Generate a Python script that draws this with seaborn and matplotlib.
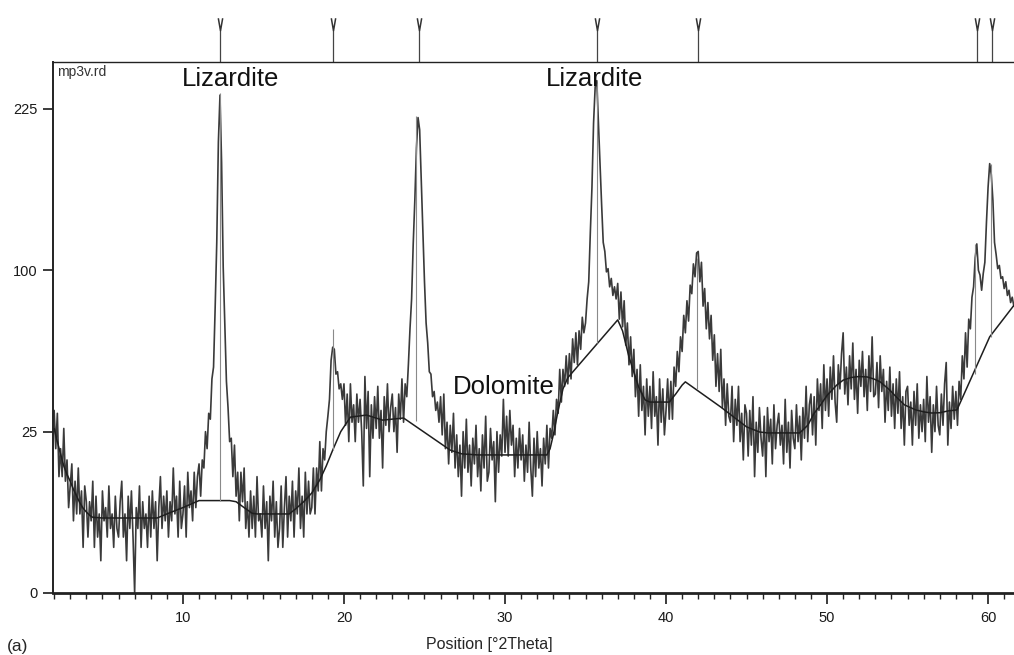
import numpy as np
import matplotlib
matplotlib.use("Agg")
import matplotlib.pyplot as plt
import seaborn as sns
from matplotlib.ticker import MultipleLocator, FixedLocator

# scan grid: 2.0 to 61.6 deg 2theta, 0.1 deg steps
scan_start = 2.0
scan_step = 0.1

# counts, one row per degree
counts_02_11 = [
    32, 20, 31, 13, 20, 13, 26, 12, 17, 7,
    11, 16, 5, 12, 6, 15, 6, 10, 2, 11,
    8, 3, 8, 5, 12, 2, 9, 3, 6, 1,
    10, 5, 7, 3, 11, 4, 6, 2, 9, 4,
    3, 8, 12, 3, 6, 1, 9, 4, 10, 3,
    0, 7, 4, 11, 2, 8, 4, 6, 2, 9,
    3, 10, 4, 8, 1, 7, 13, 4, 9, 5,
    10, 3, 8, 5, 15, 6, 9, 3, 12, 4,
    6, 11, 3, 14, 7, 10, 5, 14, 7, 13,
    16, 9, 17, 15, 25, 20, 31, 29, 44, 49,
]
counts_12_21 = [
    78, 118, 195, 238, 178, 102, 70, 43, 33, 22,
    23, 13, 21, 9, 14, 5, 14, 8, 15, 4,
    8, 3, 10, 4, 9, 3, 13, 5, 6, 3,
    11, 4, 8, 1, 9, 5, 12, 3, 8, 2,
    4, 11, 2, 7, 13, 3, 9, 5, 12, 3,
    10, 6, 15, 4, 9, 3, 14, 6, 12, 6,
    7, 15, 6, 15, 10, 22, 10, 20, 17, 25,
    30, 36, 52, 58, 57, 46, 47, 40, 42, 36,
    42, 27, 38, 22, 42, 28, 34, 22, 38, 28,
    36, 25, 11, 45, 26, 39, 13, 34, 23, 37,
]
counts_22_31 = [
    26, 41, 23, 32, 15, 37, 27, 42, 25, 33,
    38, 25, 33, 19, 38, 29, 44, 28, 42, 37,
    50, 67, 83, 117, 148, 190, 217, 206, 163, 127,
    93, 70, 60, 47, 46, 37, 39, 32, 35, 28,
    37, 24, 38, 20, 28, 16, 27, 19, 31, 15,
    24, 13, 21, 9, 25, 15, 29, 14, 21, 11,
    23, 16, 27, 13, 20, 10, 24, 15, 30, 12,
    14, 26, 17, 22, 8, 25, 14, 24, 18, 36,
    19, 30, 18, 32, 21, 27, 13, 23, 15, 26,
    17, 24, 12, 21, 14, 28, 15, 9, 23, 13,
]
counts_32_41 = [
    25, 15, 20, 11, 23, 16, 27, 15, 26, 23,
    32, 24, 36, 31, 48, 35, 48, 41, 54, 42,
    55, 44, 62, 51, 65, 50, 66, 57, 73, 65,
    70, 83, 93, 125, 158, 212, 246, 252, 213, 175,
    145, 118, 112, 99, 101, 90, 95, 85, 90, 83,
    92, 72, 87, 68, 82, 59, 70, 50, 63, 45,
    57, 37, 48, 30, 50, 32, 41, 24, 44, 30,
    41, 26, 47, 30, 37, 21, 44, 28, 40, 24,
    32, 44, 29, 43, 29, 49, 41, 56, 47, 63,
    56, 74, 65, 82, 71, 91, 86, 104, 96, 111,
]
counts_42_51 = [
    112, 93, 105, 79, 89, 67, 81, 62, 74, 52,
    64, 41, 55, 39, 57, 33, 44, 27, 42, 30,
    28, 41, 22, 36, 27, 41, 22, 31, 17, 34,
    31, 18, 32, 21, 37, 13, 28, 19, 33, 23,
    18, 30, 13, 33, 22, 29, 16, 34, 20, 27,
    31, 21, 27, 16, 36, 19, 28, 15, 32, 23,
    20, 34, 22, 30, 17, 33, 23, 41, 22, 34,
    38, 24, 37, 21, 44, 32, 42, 26, 50, 32,
    44, 30, 49, 36, 54, 35, 28, 50, 40, 55,
    65, 38, 49, 34, 54, 40, 60, 36, 48, 31,
]
counts_52_61 = [
    52, 41, 56, 37, 48, 32, 54, 39, 63, 37,
    38, 51, 33, 54, 39, 48, 28, 43, 32, 49,
    30, 42, 26, 44, 31, 47, 26, 37, 21, 39,
    41, 27, 35, 21, 39, 27, 42, 23, 34, 25,
    36, 22, 45, 28, 37, 19, 34, 25, 41, 27,
    24, 38, 27, 42, 51, 21, 35, 26, 41, 29,
    39, 27, 43, 36, 54, 44, 65, 49, 72, 67,
    84, 90, 108, 117, 100, 97, 88, 98, 105, 132,
    158, 177, 168, 148, 118, 110, 101, 103, 95, 96,
    89, 93, 85, 88, 81, 84, 79,
]

# fitted background curve
bg_pos = [2.0, 2.2, 2.4, 2.6, 2.8, 3.0, 3.2, 3.4, 3.6, 3.8, 4.0, 4.2, 4.4, 5.0,
          8.4, 9.0, 9.5, 10.0, 10.5, 11.0, 12.9, 13.3, 13.8, 14.3, 14.6, 16.6,
          17.0, 17.5, 18.0, 18.5, 18.9, 19.3, 19.8, 20.4, 21.4, 22.4, 23.7,
          26.6, 27.3, 28.3, 32.6, 32.8, 33.0, 33.3, 33.6, 33.9, 37.0, 37.3,
          37.7, 38.3, 38.7, 39.0, 40.2, 40.6, 41.0, 41.2, 43.4, 45.0, 45.8,
          46.3, 48.3, 48.8, 49.2, 49.6, 50.0, 50.6, 51.0, 51.5, 52.0, 52.5,
          52.9, 53.3, 53.9, 54.3, 54.8, 55.5, 56.0, 56.5, 57.0, 57.5, 58.07,
          60.1, 61.61]
bg_counts = [26, 22, 18.5, 15.5, 13.5, 12, 10.3, 9, 7.8, 6.9, 6.3, 5.8, 5.5, 5.4,
             5.4, 6.0, 6.5, 7.0, 7.6, 8.2, 8.2, 8.0, 7.0, 6.1, 6.0, 6.0,
             6.8, 8.0, 9.6, 12.3, 15.5, 19.6, 25, 29.7, 30.4, 28.7, 29.4,
             19.6, 18.6, 18.3, 18.3, 20, 24, 32, 40, 44.5, 71.6, 66,
             53.5, 40.7, 35.8, 35, 35, 38, 41.5, 42.8, 33.2, 26.5, 24.9,
             24.6, 24.6, 27, 31, 34, 37.5, 41.5, 43.5, 44.6, 45, 44.8,
             44, 42.8, 39.5, 36.9, 34, 32.2, 31.5, 31.1, 31.2, 31.8, 32.2,
             63, 79.5]

# identified peaks: stick from background to peak top
stick_pos = [12.3, 19.3, 24.5, 35.7, 41.9, 59.2, 60.2]
stick_base = [8.2, 19.6, 28.5, 60, 40, 46, 63]
stick_top = [240, 67, 218, 250, 108, 117, 177]

# reference pattern markers above the frame
ref_pos = [12.3, 19.3, 24.65, 35.7, 42.0, 59.3, 60.25]

labels = ["Lizardite", "Lizardite", "Dolomite"]
label_x = [12.98, 35.59, 29.94]
label_y = [254, 254, 40.7]

counts = counts_02_11 + counts_12_21 + counts_22_31 + counts_32_41 + counts_42_51 + counts_52_61
two_theta = np.round(scan_start + scan_step * np.arange(len(counts)), 2)

sns.set_style("ticks")
plt.rcParams["font.family"] = ["Liberation Sans", "DejaVu Sans"]

fig = plt.figure(figsize=(10.14, 6.55), dpi=100)
ax = fig.add_axes([53 / 1014, 62 / 655, (1014 - 53) / 1014, 531 / 655])

ax.set_yscale("function", functions=(lambda v: np.sqrt(np.clip(v, 0, None)), np.square))

sns.lineplot(x=two_theta, y=counts, ax=ax, color="#3a3a3a", linewidth=1.2,
             estimator=None, sort=False)
sns.lineplot(x=bg_pos, y=bg_counts, ax=ax, color="#1e1e1e", linewidth=1.1,
             estimator=None, sort=False)
ax.vlines(stick_pos, stick_base, stick_top, color="#8a8a8a", linewidth=0.8)

# markers above the plot frame
trans = ax.get_xaxis_transform()
ax.vlines(ref_pos, 1.0, 1.06, transform=trans, clip_on=False, color="#444444", linewidth=0.9)
v_marker = [(-0.35, 1), (0, -1), (0.35, 1)]
ax.plot(ref_pos, [1.072] * len(ref_pos), ls="none", marker=v_marker, ms=9,
        mfc="none", mec="#333333", mew=1.1, transform=trans, clip_on=False)

for txt, lx, ly in zip(labels, label_x, label_y):
    ax.text(lx, ly, txt, ha="center", va="center", fontsize=18.5, color="#111111")

ax.set_xlim(1.93, 61.61)
ax.set_ylim(0, 270.7)
ax.yaxis.set_major_locator(FixedLocator([0, 25, 100, 225]))
ax.xaxis.set_major_locator(MultipleLocator(10))
ax.xaxis.set_minor_locator(MultipleLocator(1))
ax.set_xlabel("")
ax.set_ylabel("")

ax.spines["right"].set_visible(False)
ax.spines["top"].set_linewidth(1.0)
ax.spines["left"].set_linewidth(1.4)
ax.spines["bottom"].set_linewidth(2.0)
for s in ax.spines.values():
    s.set_color("#222222")

ax.tick_params(axis="x", which="major", length=8, width=1.2, pad=5, labelsize=10.5, colors="#1a1a1a")
ax.tick_params(axis="x", which="minor", length=4, width=1.0, colors="#222222")
ax.tick_params(axis="y", which="major", length=7, width=1.2, pad=4, labelsize=10.5, colors="#1a1a1a")

fig.text(57 / 1014, 1 - 72 / 655, "mp3v.rd", fontsize=10, color="#333333", va="center")
fig.text(489 / 1014, 1 - 645 / 655, "Position [°2Theta]", fontsize=11.5, ha="center", va="center")
fig.text(7 / 1014, 1 - 646 / 655, "(a)", fontsize=12.5, ha="left", va="center")

fig.savefig("out.png", dpi=100)
